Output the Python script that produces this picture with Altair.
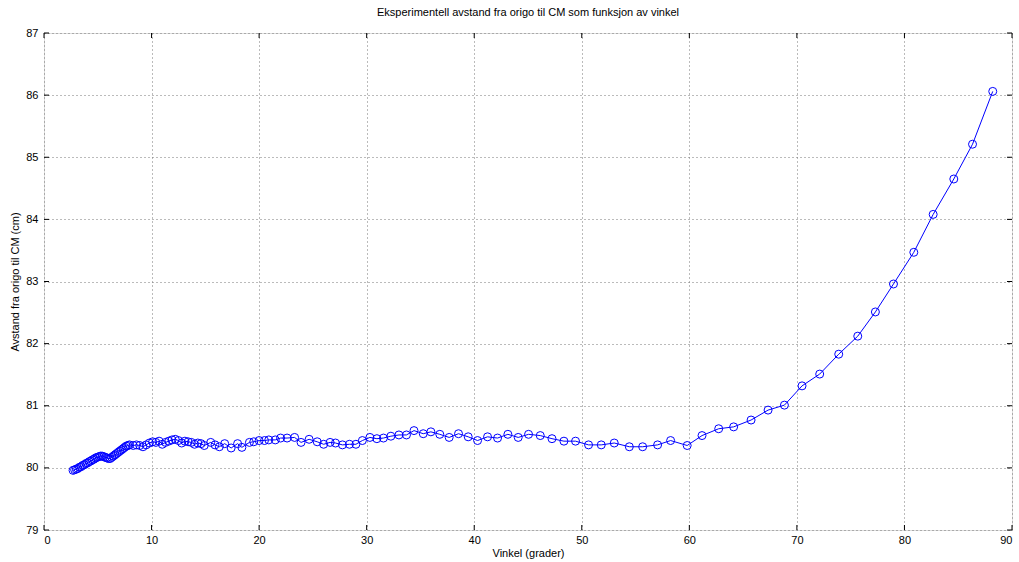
import altair as alt
import pandas as pd

TITLE = "Eksperimentell avstand fra origo til CM som funksjon av vinkel"
X_TITLE = "Vinkel (grader)"
Y_TITLE = "Avstand fra origo til CM (cm)"

x_ticks = [0, 10, 20, 30, 40, 50, 60, 70, 80, 90]
y_ticks = [79, 80, 81, 82, 83, 84, 85, 86, 87]

angle = [
    2.7, 2.85, 3.0, 3.15, 3.3, 3.45, 3.6, 3.75, 3.9, 4.05, 4.2, 4.35, 4.5, 4.65, 4.8, 4.95, 5.1, 5.25,
    5.4, 5.55, 5.7, 5.85, 6.0, 6.15,
    6.3, 6.45, 6.6, 6.75, 6.9, 7.05, 7.2, 7.35, 7.5, 7.65, 7.8, 7.95,
    8.3, 8.6, 8.9, 9.2, 9.5, 9.8, 10.1, 10.4, 10.7, 11.0, 11.3, 11.6, 11.9, 12.2, 12.5, 12.8,
    13.1, 13.4, 13.7, 14.0, 14.3, 14.6, 14.9,
    15.5, 15.9, 16.3, 16.8, 17.4, 18.0, 18.4, 19.1, 19.5, 20.0, 20.5, 20.9, 21.5, 22.0, 22.6,
    23.3, 23.9, 24.65, 25.4, 26.0,
    26.6, 27.1, 27.75, 28.4, 29.0, 29.6, 30.3, 30.95, 31.56, 32.25, 33.0, 33.7, 34.4, 35.26,
    35.97, 36.8, 37.67, 38.54, 39.44, 40.31, 41.24, 42.17, 43.13, 44.09, 45.05, 46.14, 47.23,
    48.34, 49.42, 50.63, 51.81, 53.02, 54.42, 55.66, 57.05, 58.26, 59.8, 61.18, 62.73, 64.12,
    65.74, 67.32, 68.84, 70.48, 72.12, 73.89, 75.66, 77.3, 78.98, 80.87, 82.67, 84.59, 86.33, 88.21,
]
distance = [
    79.96, 79.97, 79.98, 79.99, 80.01, 80.02, 80.04, 80.05, 80.07, 80.08, 80.10, 80.11, 80.13, 80.14, 80.16, 80.17, 80.18, 80.19,
    80.19, 80.18, 80.17, 80.16, 80.15, 80.15,
    80.17, 80.19, 80.21, 80.23, 80.25, 80.27, 80.29, 80.31, 80.33, 80.35, 80.36, 80.37,
    80.36, 80.37, 80.36, 80.34, 80.37, 80.40, 80.42, 80.41, 80.43, 80.38, 80.41, 80.43, 80.45, 80.46, 80.44, 80.40,
    80.43, 80.42, 80.41, 80.38, 80.40, 80.39, 80.36,
    80.41, 80.37, 80.34, 80.39, 80.32, 80.39, 80.33, 80.41, 80.42, 80.44, 80.44, 80.45, 80.45, 80.48, 80.48,
    80.49, 80.41, 80.46, 80.42, 80.38,
    80.41, 80.40, 80.37, 80.38, 80.38, 80.44, 80.49, 80.47, 80.48, 80.51, 80.53, 80.53, 80.60, 80.55,
    80.58, 80.54, 80.49, 80.55, 80.50, 80.44, 80.50, 80.48, 80.54, 80.49, 80.54, 80.52, 80.47,
    80.43, 80.43, 80.37, 80.37, 80.40, 80.34, 80.34, 80.37, 80.44, 80.36, 80.52, 80.63, 80.66,
    80.77, 80.93, 81.01, 81.32, 81.51, 81.83, 82.12, 82.51, 82.96, 83.47, 84.08, 84.65, 85.21, 86.06,
]

df = pd.DataFrame({"x": angle, "y": distance})
xt = pd.DataFrame({"x": x_ticks})
yt = pd.DataFrame({"y": y_ticks})

W, H = 968, 497
FONT = "Liberation Sans"
BLUE = "#0000FF"

xscale = alt.Scale(domain=[x_ticks[0], x_ticks[-1]], nice=False, zero=False)
yscale = alt.Scale(domain=[y_ticks[0], y_ticks[-1]], nice=False, zero=False)

xaxis = alt.Axis(values=x_ticks, grid=True, gridDash=[1, 3], gridColor="#777777", gridWidth=1,
                 ticks=False, domain=False, labelPadding=4, labelFontSize=11, labelFont=FONT,
                 labelColor="black", title=X_TITLE, titleFont=FONT, titleFontSize=11,
                 titleFontWeight="normal", titleColor="black", titlePadding=2, format="d")
yaxis = alt.Axis(values=y_ticks, grid=True, gridDash=[1, 3], gridColor="#777777", gridWidth=1,
                 ticks=False, domain=False, labelPadding=6, labelFontSize=11, labelFont=FONT,
                 labelColor="black", title=Y_TITLE, titleFont=FONT, titleFontSize=11,
                 titleFontWeight="normal", titleColor="black", titlePadding=5, format="d")

line = alt.Chart(df).mark_line(color=BLUE, strokeWidth=1).encode(
    x=alt.X("x:Q", scale=xscale, axis=xaxis),
    y=alt.Y("y:Q", scale=yscale, axis=yaxis),
    order="x:Q",
)
pts = alt.Chart(df).mark_point(shape="circle", filled=False, size=64, color=BLUE, strokeWidth=1, opacity=1).encode(
    x=alt.X("x:Q", scale=xscale),
    y=alt.Y("y:Q", scale=yscale),
)

tick_len = 5
xtick_b = alt.Chart(xt).mark_rule(color="black", strokeWidth=1).encode(
    x=alt.X("x:Q", scale=xscale), y=alt.value(H), y2=alt.value(H - tick_len))
xtick_t = alt.Chart(xt).mark_rule(color="black", strokeWidth=1).encode(
    x=alt.X("x:Q", scale=xscale), y=alt.value(0), y2=alt.value(tick_len))
ytick_l = alt.Chart(yt).mark_rule(color="black", strokeWidth=1).encode(
    y=alt.Y("y:Q", scale=yscale), x=alt.value(0), x2=alt.value(tick_len))
ytick_r = alt.Chart(yt).mark_rule(color="black", strokeWidth=1).encode(
    y=alt.Y("y:Q", scale=yscale), x=alt.value(W), x2=alt.value(W - tick_len))

chart = alt.layer(line, pts, xtick_b, xtick_t, ytick_l, ytick_r).properties(
    width=W, height=H,
    title=alt.TitleParams(TITLE, font=FONT, fontSize=11, fontWeight="normal", color="black",
                          anchor="middle", offset=9),
    autosize=alt.AutoSizeParams(type="none"),
    padding={"left": 44, "top": 33, "right": 7, "bottom": 32},
).configure_view(stroke="black", strokeWidth=1).configure(background="white")

chart.save("out.html", embed_options={"renderer": "svg", "actions": False})
